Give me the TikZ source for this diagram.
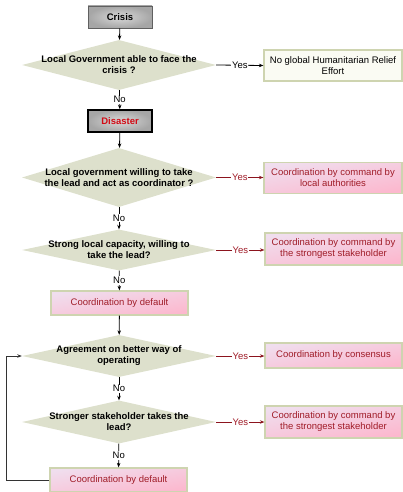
\documentclass[tikz,border=0pt]{standalone}
\usepackage{fontspec}
\setmainfont{Liberation Sans}
\usetikzlibrary{shapes.geometric,arrows.meta}
\definecolor{sage}{RGB}{221,224,204}
\definecolor{boxline}{RGB}{206,212,176}
\definecolor{paleyel}{RGB}{250,251,243}
\definecolor{pinktop}{RGB}{240,222,238}
\definecolor{pinkbot}{RGB}{252,184,206}
\definecolor{darkred}{RGB}{160,28,40}
\definecolor{linered}{RGB}{140,20,30}
\definecolor{redtxt}{RGB}{210,10,20}
\tikzset{
  txt/.style={font=\fontsize{9.5}{11}\selectfont},
  dia/.style={diamond, fill=sage, draw=none, minimum width=194pt, minimum height=#1, inner sep=0pt},
  dtext/.style={txt, font=\fontsize{9.5}{11}\selectfont\bfseries, align=center, inner sep=0pt},
  graybox/.style={rectangle, minimum width=64pt, minimum height=22pt, inner color=gray!30, outer color=gray!70, draw=gray!75!black, line width=0.6pt, font=\fontsize{9.5}{11}\selectfont\bfseries},
  pinkbox/.style={rectangle, minimum width=#1, minimum height=24pt, draw=boxline, line width=1.2pt, shading=axis, top color=pinktop, bottom color=pinkbot, shading angle=10, text=darkred, align=center, txt},
  palebox/.style={rectangle, minimum width=138pt, minimum height=31pt, draw=boxline, line width=1.2pt, fill=paleyel, align=center, txt},
  arr/.style={-{Stealth[length=4.5pt,width=3.5pt]}, line width=0.8pt},
  redarr/.style={arr, draw=linered},
  lab/.style={fill=white, inner sep=0.8pt, font=\fontsize{9.5}{11}\selectfont},
}
\begin{document}
\begin{tikzpicture}[x=1pt,y=-1pt]
\useasboundingbox (0,0) rectangle (402,492);
% main column
\node[graybox] (crisis) at (120,17) {Crisis};
\node[dia=50pt] (d1) at (119,65) {};
\node[dtext] (d1t) at (d1) {Local Government able to face the\\crisis ?};
\node[palebox] (r1) at (333,65.5) {No global Humanitarian Relief\\Effort};
\node[graybox, draw=black, line width=1.6pt, text=redtxt] (dis) at (120,121) {Disaster};
\node[dia=59pt] (d2) at (119,177.5) {};
\node[dtext] (d2t) at (d2) {Local government willing to take\\the lead and act as coordinator ?};
\node[pinkbox=138pt, minimum height=31pt] (r2) at (333,178) {Coordination by command by\\local authorities};
\node[dia=41pt] (d3) at (119,250) {};
\node[dtext] (d3t) at (d3) {Strong local capacity, willing to\\take the lead?};
\node[pinkbox=137pt, minimum height=32pt] (r3) at (333.5,249) {Coordination by command by\\the strongest stakeholder};
\node[pinkbox=137pt] (def1) at (119.5,303) {Coordination by default};
\node[dia=42pt] (d4) at (119,356) {};
\node[dtext] (d4t) at (d4) {Agreement on better way of\\operating};
\node[pinkbox=137pt, minimum height=25pt] (r4) at (333.5,355.5) {Coordination by consensus};
\node[dia=43pt] (d5) at (119,422) {};
\node[dtext] (d5t) at (d5) {Stronger stakeholder takes the\\lead?};
\node[pinkbox=137pt, minimum height=32pt] (r5) at (333.5,422) {Coordination by command by\\the strongest stakeholder};
\node[pinkbox=137pt] (def2) at (118.5,480) {Coordination by default};
\coordinate (lb) at (6,480);
\coordinate (lt) at (6,356);
% vertical connectors
\draw[arr] (crisis) -- (d1);
\draw[arr] (d1) -- node[lab] (n1) {No} (dis);
\draw[arr] (dis) -- (d2);
\draw[arr] (d2) -- node[lab] (n2) {No} (d3);
\draw[arr] (d3) -- node[lab] (n3) {No} (def1);
\draw[arr] (def1) -- (d4);
\draw[arr] (d4) -- node[lab] (n4) {No} (d5);
\draw[arr] (d5) -- node[lab] (n5) {No} (def2);
% yes connectors
\draw[arr] (d1.east) -- node[lab] (y1) {Yes} (r1.west);
\draw[redarr] (d2.east) -- node[lab, text=darkred] (y2) {Yes} (r2.west |- d2.east);
\draw[redarr] (d3.east) -- node[lab, text=darkred] (y3) {Yes} (r3.west |- d3.east);
\draw[redarr] (d4.east) -- node[lab, text=darkred] (y4) {Yes} (r4.west |- d4.east);
\draw[redarr] (d5.east) -- node[lab, text=darkred] (y5) {Yes} (r5.west |- d5.east);
% loop
\draw[arr, draw=black!80] (def2.west) -- (lb) -- (lt) -- (d4.west);
\end{tikzpicture}
\end{document}
